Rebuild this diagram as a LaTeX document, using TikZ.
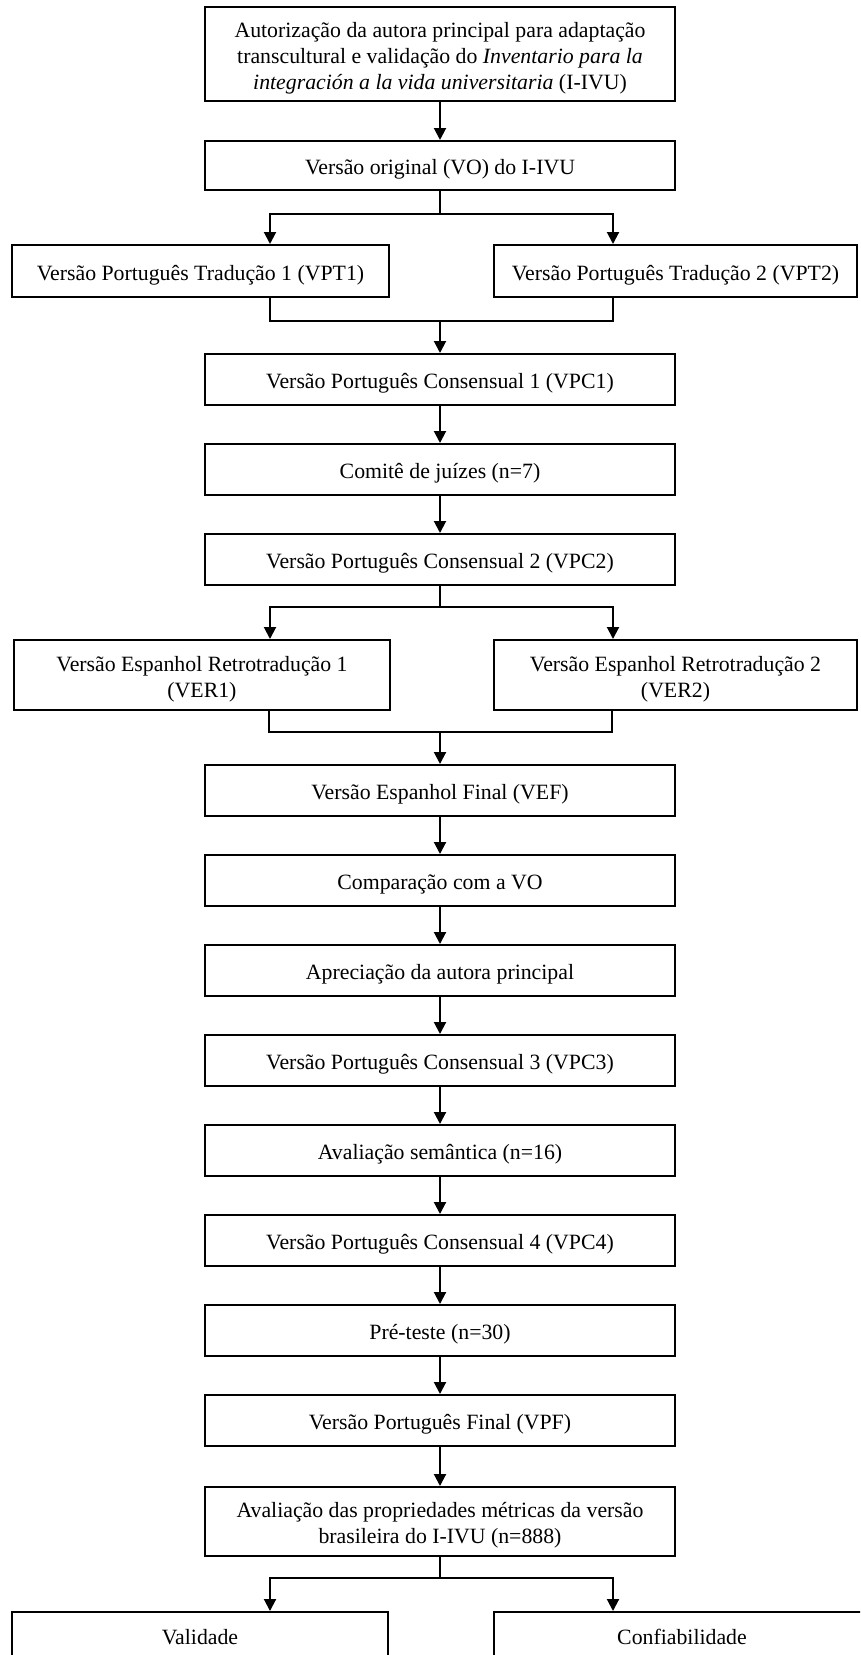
\documentclass[tikz,border=0pt]{standalone}
\usepackage{fontspec}
\setmainfont{Liberation Serif}
\usetikzlibrary{arrows.meta}
\begin{document}
\begin{tikzpicture}[x=1pt,y=-1pt,
  box/.style={draw=black, line width=2pt, inner sep=0pt, align=center,
    text height=20pt, text depth=2pt, font=\fontsize{21.8}{26}\selectfont},
  mainbox/.style={box, minimum width=470pt, minimum height=51pt},
  conn/.style={line width=2pt, draw=black},
  arr/.style={conn, -{Triangle[length=12pt,width=12pt]}}]
\useasboundingbox[fill=white] (0,0) rectangle (860,1655);
\begin{scope}
\clip (0,0) rectangle (860,1655);
% boxes
\node[box, minimum width=470pt, minimum height=94pt, text height=72pt] (n1) at (440,54)
  {Autorização da autora principal para adaptação\\transcultural e validação do \textit{Inventario para la}\\\textit{integración a la vida universitaria} (I-IVU)};
\node[mainbox, minimum height=49pt] (n2) at (440,165.5) {Versão original (VO) do I-IVU};
\node[box, minimum width=377pt, minimum height=52pt] (n3a) at (200.5,271) {Versão Português Tradução 1 (VPT1)};
\node[box, minimum width=363pt, minimum height=52pt] (n3b) at (675.5,271) {Versão Português Tradução 2 (VPT2)};
\node[mainbox] (n4) at (440,379.5) {Versão Português Consensual 1 (VPC1)};
\node[mainbox] (n5) at (440,469.5) {Comitê de juízes (n=7)};
\node[mainbox] (n6) at (440,559.5) {Versão Português Consensual 2 (VPC2)};
\node[box, minimum width=376pt, minimum height=70pt, text height=46pt] (n7a) at (202,675) {Versão Espanhol Retrotradução 1\\(VER1)};
\node[box, minimum width=363pt, minimum height=70pt, text height=46pt] (n7b) at (675.5,675) {Versão Espanhol Retrotradução 2\\(VER2)};
\node[mainbox] (n8) at (440,790.5) {Versão Espanhol Final (VEF)};
\node[mainbox] (n9) at (440,880.5) {Comparação com a VO};
\node[mainbox] (n10) at (440,970.5) {Apreciação da autora principal};
\node[mainbox] (n11) at (440,1060.5) {Versão Português Consensual 3 (VPC3)};
\node[mainbox] (n12) at (440,1150.5) {Avaliação semântica (n=16)};
\node[mainbox] (n13) at (440,1240.5) {Versão Português Consensual 4 (VPC4)};
\node[mainbox] (n14) at (440,1330.5) {Pré-teste (n=30)};
\node[mainbox] (n15) at (440,1420.5) {Versão Português Final (VPF)};
\node[box, minimum width=470pt, minimum height=69pt, text height=46pt] (n16) at (440,1521.5)
  {Avaliação das propriedades métricas da versão\\brasileira do I-IVU (n=888)};
\node[box, anchor=north, minimum width=376pt, inner ysep=12pt, text depth=50pt] (n17a) at (200,1611) {Validade};
\node[box, anchor=north, minimum width=376pt, inner ysep=12pt, text depth=50pt] (n17b) at (682,1611) {Confiabilidade};
% connectors
\draw[arr] (n1) -- (n2);
\coordinate (s1) at (440,214);
\draw[conn] (n2) -- (s1);
\draw[arr] (s1) -| ([xshift=69.5pt]n3a.north);
\draw[arr] (s1) -| ([xshift=-62.5pt]n3b.north);
\coordinate (m1) at (440,321);
\draw[conn] ([xshift=69.5pt]n3a.south) |- (m1) -| ([xshift=-62.5pt]n3b.south);
\draw[arr] (m1) -- (n4);
\draw[arr] (n4) -- (n5);
\draw[arr] (n5) -- (n6);
\coordinate (s2) at (440,607);
\draw[conn] (n6) -- (s2);
\draw[arr] (s2) -| ([xshift=68pt]n7a.north);
\draw[arr] (s2) -| ([xshift=-62.5pt]n7b.north);
\coordinate (m2) at (440,732);
\draw[conn] ([xshift=67pt]n7a.south) |- (m2) -| ([xshift=-63.5pt]n7b.south);
\draw[arr] (m2) -- (n8);
\draw[arr] (n8) -- (n9);
\draw[arr] (n9) -- (n10);
\draw[arr] (n10) -- (n11);
\draw[arr] (n11) -- (n12);
\draw[arr] (n12) -- (n13);
\draw[arr] (n13) -- (n14);
\draw[arr] (n14) -- (n15);
\draw[arr] (n15) -- (n16);
\coordinate (s3) at (440,1578);
\draw[conn] (n16) -- (s3);
\draw[arr] (s3) -| ([xshift=70pt]n17a.north);
\draw[arr] (s3) -| ([xshift=-69pt]n17b.north);
\end{scope}
\end{tikzpicture}
\end{document}
